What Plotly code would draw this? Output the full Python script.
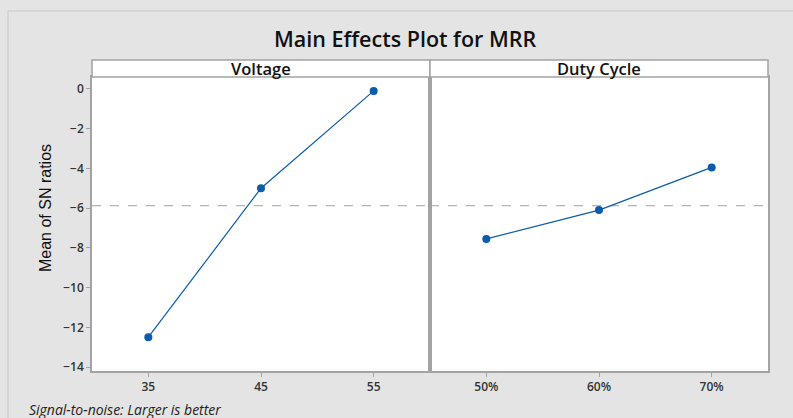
import plotly.graph_objects as go
from plotly.subplots import make_subplots

# ---- data ----
voltage_levels = ["35", "45", "55"]
voltage_sn = [-12.5, -5.0, -0.1]
duty_levels = ["50%", "60%", "70%"]
duty_sn = [-7.55, -6.1, -3.95]
overall_mean = -5.87
y_ticks = [0, -2, -4, -6, -8, -10, -12, -14]
panel_titles = ["Voltage", "Duty Cycle"]

W, H = 793, 418
L, R, T, B = 92, 25, 60, 47
pw, ph = W - L - R, H - T - B
strip_h = 17
ytop = 1 - strip_h / ph

line_col = "#0b5cad"
frame_col = "#a3a3a3"
bg_gray = "#e4e4e4"

fig = make_subplots(rows=1, cols=2, shared_yaxes=True, horizontal_spacing=0)

for i, (xs, ys) in enumerate([(voltage_levels, voltage_sn), (duty_levels, duty_sn)]):
    fig.add_trace(go.Scatter(
        x=xs, y=ys, mode="lines+markers",
        line=dict(color=line_col, width=1.2),
        marker=dict(color=line_col, size=8, symbol="circle"),
        showlegend=False, hoverinfo="x+y"), row=1, col=i + 1)
    fig.add_hline(y=overall_mean, line=dict(color="#b4b4b4", width=1.2, dash="dash"),
                  row=1, col=i + 1, layer="below")

axis_common = dict(showline=True, mirror=True, linecolor=frame_col, linewidth=1.5,
                   ticks="outside", ticklen=4, tickcolor=frame_col, showgrid=False,
                   zeroline=False,
                   tickfont=dict(family="Open Sans", size=12, color="#333", weight=600))

fig.update_xaxes(type="category", range=[-0.5, 2.5], **axis_common)
fig.update_xaxes(domain=[0, 0.5], row=1, col=1)
fig.update_xaxes(domain=[0.5, 1], row=1, col=2)
fig.update_yaxes(range=[-14.2, 0.6], tickvals=y_ticks, domain=[0, ytop], **axis_common)
fig.update_yaxes(ticks="", showticklabels=False, row=1, col=2)

def px_x(x):
    return (x - L) / pw

def px_y(y):
    return (H - B - y) / ph

shapes = []
# white outer margins (top and left)
shapes.append(dict(type="rect", xref="paper", yref="paper",
                   x0=px_x(-5), x1=px_x(W + 5), y0=px_y(11), y1=px_y(-5),
                   fillcolor="white", line=dict(width=0), layer="above"))
shapes.append(dict(type="rect", xref="paper", yref="paper",
                   x0=px_x(-5), x1=px_x(8), y0=px_y(H + 5), y1=px_y(-5),
                   fillcolor="white", line=dict(width=0), layer="above"))
# border of gray panel
shapes.append(dict(type="line", xref="paper", yref="paper",
                   x0=px_x(8), x1=px_x(W + 5), y0=px_y(11), y1=px_y(11),
                   line=dict(color="#c8c8c8", width=1)))
shapes.append(dict(type="line", xref="paper", yref="paper",
                   x0=px_x(8), x1=px_x(8), y0=px_y(H + 5), y1=px_y(11),
                   line=dict(color="#c8c8c8", width=1)))
# strip headers
for x0, x1 in [(0, 0.5), (0.5, 1)]:
    shapes.append(dict(type="rect", xref="paper", yref="paper",
                       x0=x0, x1=x1, y0=ytop, y1=1,
                       fillcolor="white", line=dict(color=frame_col, width=1.5)))

annotations = []
for (x0, x1), t in zip([(0, 0.5), (0.5, 1)], panel_titles):
    annotations.append(dict(text=t, xref="paper", yref="paper", x=(x0 + x1) / 2,
                            y=(ytop + 1) / 2, showarrow=False, xanchor="center", yanchor="middle",
                            font=dict(family="Open Sans", size=16.5, color="#111", weight=600)))
annotations.append(dict(text="Main Effects Plot for MRR", xref="paper", yref="paper",
                        x=px_x(405), y=px_y(38), showarrow=False,
                        xanchor="center", yanchor="middle",
                        font=dict(family="Open Sans", size=21.5, color="#111", weight=600)))
annotations.append(dict(text="Mean of SN ratios", xref="paper", yref="paper",
                        x=px_x(45), y=px_y(208), showarrow=False, textangle=-90,
                        xanchor="center", yanchor="middle",
                        font=dict(family="Liberation Sans", size=16, color="#111")))
annotations.append(dict(text="<i>Signal-to-noise: Larger is better</i>", xref="paper", yref="paper",
                        x=px_x(27), y=px_y(409), showarrow=False,
                        xanchor="left", yanchor="middle",
                        font=dict(family="Open Sans", size=14, color="#222")))

fig.update_layout(width=W, height=H, margin=dict(l=L, r=R, t=T, b=B),
                  paper_bgcolor=bg_gray, plot_bgcolor="white",
                  shapes=shapes, annotations=annotations)

fig.write_html("out.html", config={"displayModeBar": False},
               post_script="document.body.style.margin='0';")
